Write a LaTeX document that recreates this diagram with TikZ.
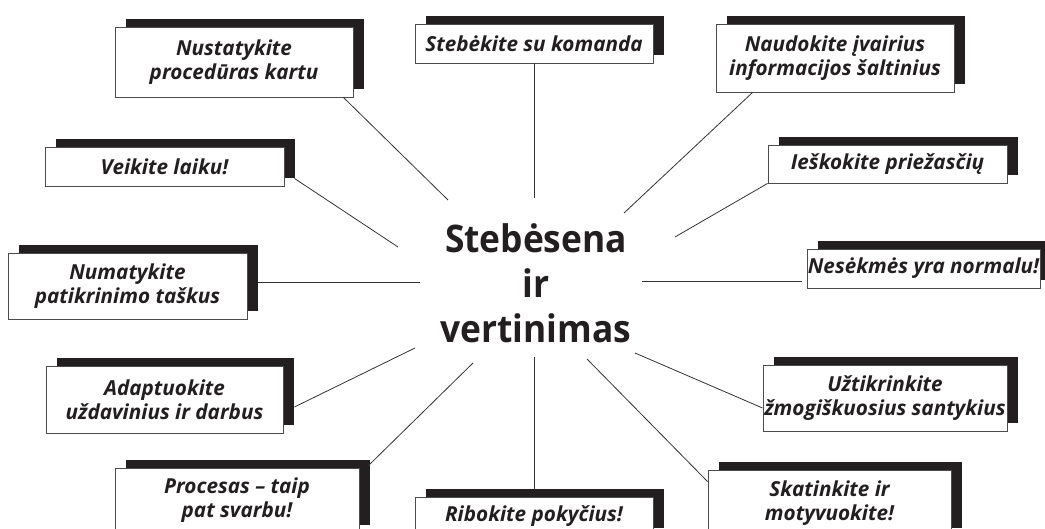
\documentclass[tikz,border=0pt]{standalone}
\usepackage{fontspec}
\setmainfont{Open Sans}
\newfontfamily\hubfont[FakeStretch=0.93]{Open Sans}
\usetikzlibrary{shadows}
\definecolor{ink}{HTML}{231F20}
\begin{document}
\begin{tikzpicture}[x=1pt,y=-1pt,
  lbl/.style={draw=black!70, line width=0.9pt, fill=white, align=center, inner sep=0pt,
    font=\fontsize{20.7}{24}\selectfont\bfseries\itshape, text=ink,
    drop shadow={shadow xshift=11pt, shadow yshift=8pt, fill=ink, opacity=1}},
  link/.style={draw=black!80, line width=0.8pt},
  hub/.style={align=center, inner sep=0pt, text=ink,
    font=\hubfont\fontsize{38}{45}\selectfont\bfseries}]
\useasboundingbox (0,0) rectangle (1045,529);
\fill[white] (0,0) rectangle (1045,529);
\clip (0,0) rectangle (1045,529);

% hub
\node[hub] (c) at (536,283) {Stebėsena\\ir\\vertinimas};

% label boxes
\node[lbl, minimum width=238pt, minimum height=70pt] (n1) at (234,62) {Nustatykite\\procedūras kartu};
\node[lbl, minimum width=238pt, minimum height=39pt] (n2) at (534,43.5) {Stebėkite su komanda};
\node[lbl, minimum width=238pt, minimum height=68pt] (n3) at (835,58) {Naudokite įvairius\\informacijos šaltinius};
\node[lbl, minimum width=239pt, minimum height=39pt] (n4) at (164.5,166.5) {Veikite laiku!};
\node[lbl, minimum width=239pt, minimum height=66pt] (n5) at (127.5,286) {Numatykite\\patikrinimo taškus};
\node[lbl, minimum width=239pt, minimum height=38pt] (n6) at (887.5,164) {Ieškokite priežasčių};
\node[lbl, minimum width=233pt, minimum height=39pt] (n7) at (923.5,268.5) {Nesėkmės yra normalu!};
\node[lbl, minimum width=237pt, minimum height=67pt] (n8) at (164.5,399.5) {Adaptuokite\\uždavinius ir darbus};
\node[lbl, minimum width=244pt, minimum height=65pt] (n9) at (237,500.5) {Procesas – taip\\pat svarbu!};
\node[lbl, minimum width=238pt, minimum height=39pt] (n10) at (534,516.5) {Ribokite pokyčius!};
\node[lbl, minimum width=243pt, minimum height=66pt] (n11) at (829.5,503) {Skatinkite ir\\motyvuokite!};
\node[lbl, minimum width=244pt, minimum height=66pt] (n12) at (885,398) {Užtikrinkite\\žmogiškuosius santykius};

% inner ends of connectors
\coordinate (e1) at (448,200);
\coordinate (e2) at (534,198);
\coordinate (e3) at (624,213);
\coordinate (e4) at (398,247);
\coordinate (e5) at (420,282);
\coordinate (e6) at (675,237);
\coordinate (e7) at (642,281);
\coordinate (e8) at (415,348);
\coordinate (e9) at (473,363);
\coordinate (e10) at (534,357);
\coordinate (e11) at (587,359);
\coordinate (e12) at (635,353);

% connectors
\draw[link] ([xshift=-10pt]n1.south east) -- (e1);
\draw[link] (n2.south) -- (e2);
\draw[link] ([xshift=37pt]n3.south west) -- (e3);
\draw[link] ([shift={(10pt,8pt)}]n4.south east) -- (e4);
\draw[link] ([shift={(11pt,4pt)}]n5.east) -- (e5);
\draw[link] (n6.south west) -- (e6);
\draw[link] ([shift={(-5pt,-12.5pt)}]n7.west) -- (e7);
\draw[link] ([shift={(11pt,-7.5pt)}]n8.east) -- (e8);
\draw[link] ([shift={(9pt,2pt)}]n9.north east) -- (e9);
\draw[link] ([yshift=8pt]n10.north) -- (e10);
\draw[link] ([yshift=-12pt]n11.north west) -- (e11);
\draw[link] ([yshift=-10pt]n12.west) -- (e12);
\end{tikzpicture}
\end{document}
